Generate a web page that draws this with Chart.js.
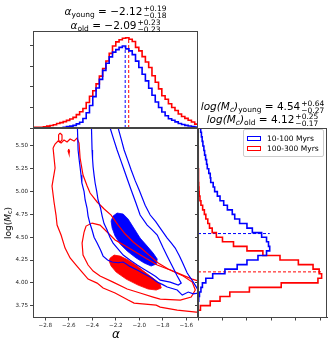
<!DOCTYPE html>
<html>
<head>
<meta charset="utf-8">
<title>alpha vs log Mc</title>
<script src="https://cdn.jsdelivr.net/npm/chart.js@4.4.1/dist/chart.umd.min.js"></script>
<style>
  html, body { margin: 0; padding: 0; background: #fff; }
  #fig { position: relative; width: 331px; height: 344px; overflow: hidden; font-family: "DejaVu Sans", sans-serif; color: #000; }
  #fig canvas { position: absolute; left: 0; top: 0; }
  .txt { position: absolute; white-space: nowrap; }
  .ttl { font-size: 10.5px; line-height: 14px; text-align: center; }
  .ttl sub { font-size: 7.5px; vertical-align: -2px; line-height: 0; }
  .pm { display: inline-block; vertical-align: middle; font-size: 7.5px; line-height: 7.5px; text-align: left; margin-left: 1px; }
  .pm span { display: block; }
  #ylab { font-size: 9px; transform: translate(-50%, -50%) rotate(-90deg); }
  #ylab sub { font-size: 6.5px; vertical-align: -1px; line-height: 0; }
  #xlab { font-size: 12px; font-style: italic; transform: translate(-50%, -50%); }
  #leg { position: absolute; left: 243px; top: 129px; width: 79px; height: 26px; border: 1px solid #ccc; border-radius: 2px; background: rgba(255,255,255,0.85); font-size: 7.5px; }
  #leg .row { position: absolute; left: 3px; height: 10px; line-height: 10px; }
  #leg .sw { display: inline-block; width: 12px; height: 3px; border: 1.5px solid; vertical-align: middle; margin-right: 6px; }
</style>
</head>
<body>
<div id="fig">
  <canvas id="main" width="331" height="344"></canvas>
  <canvas id="top" width="331" height="344"></canvas>
  <canvas id="side" width="331" height="344"></canvas>

  <div class="txt ttl" style="left:33px;width:165px;top:4px"><i>α</i><sub>young</sub> = −2.12<span class="pm"><span>+0.19</span><span>−0.18</span></span></div>
  <div class="txt ttl" style="left:33px;width:165px;top:18px"><i>α</i><sub>old</sub> = −2.09<span class="pm"><span>+0.23</span><span>−0.23</span></span></div>
  <div class="txt ttl" style="left:198px;width:129px;top:99px"><i>log(M<sub>c</sub>)</i><sub>young</sub> = 4.54<span class="pm"><span>+0.64</span><span>−0.27</span></span></div>
  <div class="txt ttl" style="left:198px;width:129px;top:112px"><i>log(M<sub>c</sub>)</i><sub>old</sub> = 4.12<span class="pm"><span>+0.25</span><span>−0.17</span></span></div>

  <div id="ylab" class="txt" style="left:8px;top:223px">log(<i>M</i><sub>c</sub>)</div>
  <div id="xlab" class="txt" style="left:116px;top:334px">α</div>

  <div id="leg">
    <div class="row" style="top:4px"><span class="sw" style="border-color:#0000ff"></span>10-100 Myrs</div>
    <div class="row" style="top:14px"><span class="sw" style="border-color:#ff0000"></span>100-300 Myrs</div>
  </div>
</div>

<script>
// axes
const alphaTicks = [-2.8, -2.6, -2.4, -2.2, -2.0, -1.8, -1.6];
const logMcTicks = [3.75, 4.00, 4.25, 4.50, 4.75, 5.00, 5.25, 5.50];
const histTicks = [0, 1, 2, 3, 4];
const countTicks = [0, 1, 2, 3, 4, 5];

// alpha histograms (top panel)
const alphaBinStart = -2.90;
const alphaBinWidth = 0.028;
const alphaHistYoung = [0, 0, 0, 0, 0, 0, 0, 0, 0.01, 0.04,
  0.07, 0.09, 0.13, 0.20, 0.28, 0.46, 0.74, 1.10, 1.53, 1.95,
  2.37, 2.81, 3.16, 3.47, 3.70, 3.82, 3.93, 4.00, 3.86, 3.76,
  3.58, 3.26, 2.95, 2.62, 2.30, 1.94, 1.60, 1.27, 1.00, 0.78,
  0.60, 0.45, 0.38, 0.30, 0.22, 0.17, 0.13, 0.10, 0.07, 0.05];
const alphaHistOld = [0.03, 0.03, 0.04, 0.06, 0.09, 0.12, 0.16, 0.22, 0.26, 0.31,
  0.37, 0.44, 0.52, 0.65, 0.79, 0.95, 1.24, 1.55, 1.82, 2.15,
  2.53, 2.90, 3.27, 3.64, 4.00, 4.20, 4.30, 4.38, 4.40, 4.33,
  4.22, 3.93, 3.76, 3.48, 3.22, 2.95, 2.55, 2.23, 1.91, 1.57,
  1.40, 1.18, 1.00, 0.85, 0.68, 0.56, 0.47, 0.38, 0.29, 0.19];
const alphaMedianYoung = -2.12;
const alphaMedianOld = -2.09;

// log(Mc) histograms (right panel)
const logMcBinStart = 3.60;
const logMcBinWidth = 0.05;
const logMcHistYoung = [0, 0, 0, 0.01, 0.03, 0.06, 0.12, 0.18, 0.32, 0.60,
  1.10, 1.60, 2.00, 2.45, 2.80, 2.93, 2.88, 2.80, 2.60, 2.22,
  2.00, 1.70, 1.50, 1.40, 1.20, 1.05, 0.90, 0.79, 0.68, 0.62,
  0.52, 0.50, 0.44, 0.38, 0.35, 0.31, 0.27, 0.24, 0.20, 0.17,
  0.14, 0.11];
const logMcHistOld = [0, 0, 0.10, 0.50, 0.90, 1.30, 2.10, 3.40, 4.90, 5.05,
  4.95, 4.70, 4.10, 3.35, 2.65, 2.00, 1.45, 1.00, 0.75, 0.58,
  0.47, 0.40, 0.32, 0.26, 0.19, 0.12, 0.08, 0.05, 0.04, 0.03,
  0.02, 0.02, 0.02, 0.01, 0.01, 0.01, 0.01, 0.01, 0, 0,
  0, 0];
const logMcMedianYoung = 4.54;
const logMcMedianOld = 4.12;

// contours, [alpha, log(Mc)]
const youngInner = [[-2.223, 4.732], [-2.189, 4.765], [-2.137, 4.754], [-2.095, 4.699], [-2.052, 4.611],
  [-1.993, 4.491], [-1.933, 4.403], [-1.882, 4.326], [-1.847, 4.261], [-1.856, 4.206], [-1.899, 4.184],
  [-1.958, 4.217], [-2.027, 4.272], [-2.103, 4.348], [-2.163, 4.425], [-2.206, 4.513], [-2.231, 4.600],
  [-2.240, 4.677]];
const youngMid = [[-2.410, 5.84], [-2.402, 5.456], [-2.398, 5.36], [-2.393, 5.269], [-2.385, 5.18],
  [-2.376, 5.094], [-2.362, 5.00], [-2.351, 4.908], [-2.330, 4.82], [-2.316, 4.732], [-2.300, 4.65],
  [-2.274, 4.579], [-2.250, 4.50], [-2.223, 4.436], [-2.180, 4.37], [-2.137, 4.304], [-2.080, 4.25],
  [-2.018, 4.195], [-1.960, 4.15], [-1.907, 4.107], [-1.860, 4.07], [-1.822, 4.030], [-1.737, 4.008],
  [-1.668, 3.975], [-1.643, 3.997], [-1.677, 4.074], [-1.711, 4.162], [-1.737, 4.228], [-1.765, 4.30],
  [-1.796, 4.381], [-1.847, 4.524], [-1.890, 4.58], [-1.933, 4.633], [-1.993, 4.743], [-2.030, 4.88],
  [-2.069, 5.017], [-2.100, 5.13], [-2.129, 5.236], [-2.160, 5.35], [-2.189, 5.456], [-2.220, 5.58],
  [-2.248, 5.697], [-2.265, 5.84]];
const youngOuter = [[-2.530, 5.84], [-2.521, 5.456], [-2.513, 5.36], [-2.504, 5.269], [-2.496, 5.18],
  [-2.489, 5.094], [-2.470, 5.00], [-2.461, 4.908], [-2.445, 4.82], [-2.436, 4.732], [-2.420, 4.65],
  [-2.402, 4.579], [-2.385, 4.50], [-2.359, 4.436], [-2.330, 4.36], [-2.308, 4.293], [-2.270, 4.25],
  [-2.231, 4.228], [-2.180, 4.22], [-2.137, 4.228], [-2.080, 4.18], [-2.018, 4.140], [-1.960, 4.10],
  [-1.907, 4.063], [-1.847, 4.008], [-1.800, 3.98], [-1.762, 3.954], [-1.677, 3.921], [-1.634, 3.866],
  [-1.583, 3.899], [-1.540, 3.88], [-1.498, 3.888], [-1.438, 3.877], [-1.438, 3.975], [-1.498, 3.92],
  [-1.540, 4.008], [-1.592, 4.107], [-1.634, 4.228], [-1.660, 4.30], [-1.694, 4.381], [-1.730, 4.44],
  [-1.762, 4.491], [-1.822, 4.600], [-1.860, 4.67], [-1.907, 4.743], [-1.950, 4.85], [-2.001, 5.017],
  [-2.035, 5.12], [-2.069, 5.236], [-2.100, 5.35], [-2.129, 5.456], [-2.155, 5.58], [-2.180, 5.697],
  [-2.197, 5.84]];

const oldInner = [[-2.248, 4.272], [-2.214, 4.304], [-2.163, 4.293], [-2.095, 4.250], [-2.018, 4.184],
  [-1.941, 4.107], [-1.873, 4.041], [-1.822, 3.986], [-1.813, 3.943], [-1.856, 3.921], [-1.924, 3.932],
  [-2.010, 3.975], [-2.112, 4.041], [-2.197, 4.118], [-2.240, 4.184], [-2.257, 4.239]];
const oldMid = [[-2.470, 4.557], [-2.453, 4.622], [-2.402, 4.655], [-2.334, 4.633], [-2.274, 4.557],
  [-2.206, 4.469], [-2.103, 4.392], [-2.018, 4.326], [-1.933, 4.261], [-1.847, 4.195], [-1.737, 4.140],
  [-1.626, 4.074], [-1.549, 4.008], [-1.523, 3.921], [-1.558, 3.844], [-1.651, 3.811], [-1.822, 3.822],
  [-1.882, 3.844], [-1.993, 3.888], [-2.103, 3.932], [-2.223, 4.008], [-2.334, 4.074], [-2.393, 4.129],
  [-2.436, 4.195], [-2.479, 4.304], [-2.487, 4.436]];
const oldOuter = [[-2.734, 5.478], [-2.717, 5.521], [-2.692, 5.554], [-2.666, 5.532], [-2.641, 5.565],
  [-2.615, 5.543], [-2.589, 5.576], [-2.555, 5.554], [-2.530, 5.587], [-2.513, 5.532], [-2.504, 5.368],
  [-2.479, 5.182], [-2.444, 5.061], [-2.419, 4.984], [-2.359, 4.886], [-2.299, 4.809], [-2.240, 4.743],
  [-2.180, 4.633], [-2.120, 4.535], [-2.052, 4.447], [-1.976, 4.370], [-1.907, 4.293], [-1.839, 4.217],
  [-1.754, 4.151], [-1.651, 4.096], [-1.549, 4.041], [-1.438, 3.997], [-1.438, 3.679], [-1.515, 3.679],
  [-1.677, 3.701], [-1.822, 3.734], [-1.856, 3.756], [-2.044, 3.778], [-2.095, 3.811], [-2.206, 3.888],
  [-2.308, 3.943], [-2.359, 3.997], [-2.436, 4.041], [-2.487, 4.118], [-2.538, 4.195], [-2.589, 4.272],
  [-2.632, 4.381], [-2.666, 4.524], [-2.700, 4.633], [-2.709, 4.743], [-2.726, 4.886], [-2.743, 5.061],
  [-2.717, 5.258]];
const oldIslandA = [[-2.675, 5.642], [-2.658, 5.620], [-2.658, 5.565], [-2.675, 5.543], [-2.687, 5.565], [-2.687, 5.620]];
const oldIslandB = [[-2.602, 5.467], [-2.594, 5.445], [-2.598, 5.412], [-2.606, 5.445]];

const BLUE = '#0000ff';
const RED = '#ff0000';
const AXIS = '#444';

Chart.defaults.font.family = 'DejaVu Sans';

// box around each panel
const frame = {
  id: 'frame',
  afterDraw(chart, args, opts) {
    const a = chart.chartArea;
    const ctx = chart.ctx;
    ctx.save();
    ctx.strokeStyle = opts.color || AXIS;
    ctx.lineWidth = 1;
    ctx.strokeRect(Math.round(a.left) + 0.5, Math.round(a.top) + 0.5,
      Math.round(a.right - a.left) - 1, Math.round(a.bottom - a.top) - 1);
    ctx.restore();
  }
};

function minus(v, d) {
  return (v < 0 ? '\u2212' : '') + Math.abs(v).toFixed(d);
}

function closed(pts) {
  return pts.concat([pts[0]]).map(p => ({ x: p[0], y: p[1] }));
}

function contour(pts, color, filled) {
  return {
    data: closed(pts),
    showLine: true,
    borderColor: color,
    backgroundColor: color,
    borderWidth: filled ? 0.8 : 1.2,
    fill: filled ? 'shape' : false,
    pointRadius: 0,
    tension: 0,
    order: filled ? 2 : 1
  };
}

function stepX(start, width, vals) {
  const pts = [{ x: start, y: 0 }];
  vals.forEach((v, i) => pts.push({ x: start + i * width, y: v }));
  pts.push({ x: start + vals.length * width, y: 0 });
  return pts;
}

function stepY(start, width, vals) {
  const pts = [{ x: 0, y: start }];
  vals.forEach((v, i) => pts.push({ x: v, y: start + i * width }));
  pts.push({ x: 0, y: start + vals.length * width });
  return pts;
}

function histLine(data, color, stepped) {
  return { data: data, showLine: true, stepped: stepped, borderColor: color, borderWidth: 1.6,
    pointRadius: 0, fill: false };
}

function dashLine(data, color) {
  return { data: data, showLine: true, borderColor: color, borderWidth: 1, borderDash: [3, 2],
    pointRadius: 0, fill: false };
}

const base = {
  responsive: false,
  animation: false,
  devicePixelRatio: 1,
  events: [],
  elements: { point: { radius: 0 }, line: { tension: 0 } }
};

const tickFont = { size: 5.6, family: 'DejaVu Sans' };

// main contour panel
new Chart(document.getElementById('main'), {
  type: 'scatter',
  data: {
    datasets: [
      contour(youngInner, BLUE, true),
      contour(oldInner, RED, true),
      contour(youngMid, BLUE, false),
      contour(youngOuter, BLUE, false),
      contour(oldMid, RED, false),
      contour(oldOuter, RED, false),
      contour(oldIslandA, RED, false),
      contour(oldIslandB, RED, false)
    ]
  },
  options: {
    ...base,
    layout: { padding: { left: 0, top: 128, right: 133, bottom: 0 } },
    plugins: { legend: { display: false }, tooltip: { enabled: false }, frame: { color: AXIS } },
    scales: {
      x: {
        type: 'linear', min: -2.905, max: -1.5,
        afterBuildTicks: s => { s.ticks = alphaTicks.map(v => ({ value: v })); },
        afterFit: s => { s.height = 26.5; },
        grid: { drawOnChartArea: false, tickLength: 3, color: AXIS },
        border: { color: AXIS },
        ticks: { font: tickFont, color: '#222', padding: 1.5, autoSkip: false, maxRotation: 0,
          callback: v => minus(v, 1) }
      },
      y: {
        type: 'linear', min: 3.62, max: 5.697,
        afterBuildTicks: s => { s.ticks = logMcTicks.map(v => ({ value: v })); },
        afterFit: s => { s.width = 33; },
        grid: { drawOnChartArea: false, tickLength: 3, color: AXIS },
        border: { color: AXIS },
        ticks: { font: tickFont, color: '#222', padding: 2, autoSkip: false,
          callback: v => v.toFixed(2) }
      }
    }
  },
  plugins: [frame]
});

// top alpha histogram
const maxAlphaYoung = Math.max(...alphaHistYoung);
const maxAlphaOld = Math.max(...alphaHistOld);
new Chart(document.getElementById('top'), {
  type: 'scatter',
  data: {
    datasets: [
      histLine(stepX(alphaBinStart, alphaBinWidth, alphaHistYoung), BLUE, 'before'),
      histLine(stepX(alphaBinStart, alphaBinWidth, alphaHistOld), RED, 'before'),
      dashLine([{ x: alphaMedianYoung, y: 0 }, { x: alphaMedianYoung, y: maxAlphaYoung }], BLUE),
      dashLine([{ x: alphaMedianOld, y: 0 }, { x: alphaMedianOld, y: maxAlphaOld }], RED)
    ]
  },
  options: {
    ...base,
    layout: { padding: { left: 0, top: 31, right: 133, bottom: 216 } },
    plugins: { legend: { display: false }, tooltip: { enabled: false }, frame: { color: AXIS } },
    scales: {
      x: { type: 'linear', min: -2.905, max: -1.5, display: false },
      y: {
        type: 'linear', min: 0, max: 4.73,
        afterBuildTicks: s => { s.ticks = histTicks.map(v => ({ value: v })); },
        afterFit: s => { s.width = 33; },
        grid: { drawOnChartArea: false, tickLength: 3, color: AXIS },
        border: { color: AXIS },
        ticks: { display: false }
      }
    }
  },
  plugins: [frame]
});

// right log(Mc) histogram
const maxMcYoung = Math.max(...logMcHistYoung);
const maxMcOld = Math.max(...logMcHistOld);
new Chart(document.getElementById('side'), {
  type: 'scatter',
  data: {
    datasets: [
      histLine(stepY(logMcBinStart, logMcBinWidth, logMcHistYoung), BLUE, 'after'),
      histLine(stepY(logMcBinStart, logMcBinWidth, logMcHistOld), RED, 'after'),
      dashLine([{ x: 0, y: logMcMedianYoung }, { x: maxMcYoung, y: logMcMedianYoung }], BLUE),
      dashLine([{ x: 0, y: logMcMedianOld }, { x: maxMcOld, y: logMcMedianOld }], RED)
    ]
  },
  options: {
    ...base,
    layout: { padding: { left: 198, top: 128, right: 4, bottom: 0 } },
    plugins: { legend: { display: false }, tooltip: { enabled: false }, frame: { color: AXIS } },
    scales: {
      x: {
        type: 'linear', min: 0, max: 5.27,
        afterBuildTicks: s => { s.ticks = countTicks.map(v => ({ value: v })); },
        afterFit: s => { s.height = 26.5; },
        grid: { drawOnChartArea: false, tickLength: 3, color: AXIS },
        border: { color: AXIS },
        ticks: { display: false }
      },
      y: {
        type: 'linear', min: 3.62, max: 5.697,
        afterBuildTicks: s => { s.ticks = logMcTicks.map(v => ({ value: v })); },
        afterFit: s => { s.width = 0; },
        grid: { drawOnChartArea: false, tickLength: 3, color: AXIS },
        border: { color: AXIS },
        ticks: { display: false }
      }
    }
  },
  plugins: [frame]
});
</script>
</body>
</html>
